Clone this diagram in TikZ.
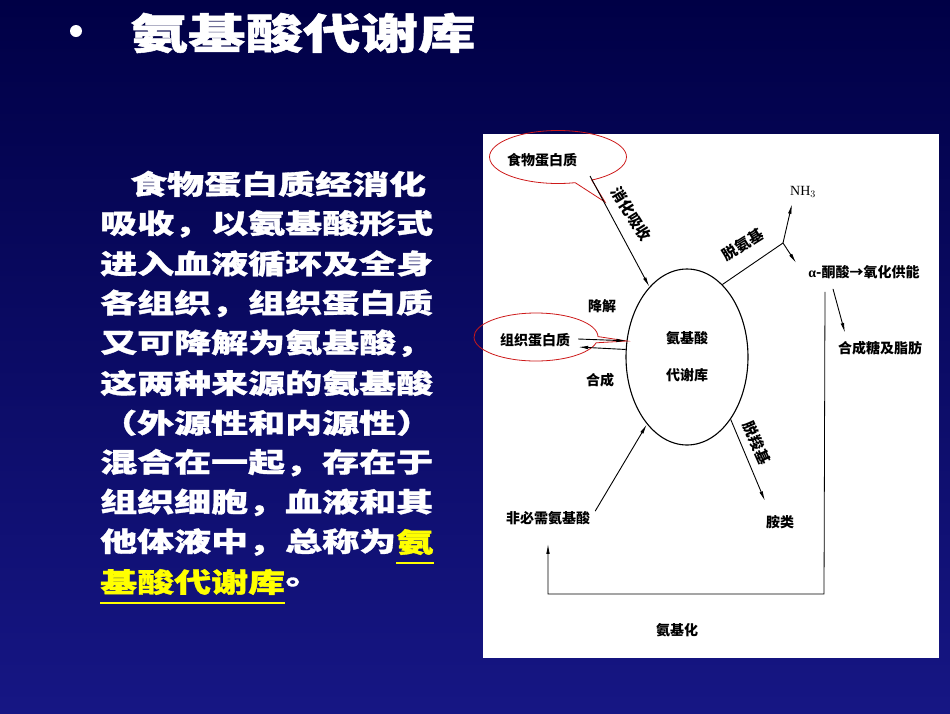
\documentclass[tikz,border=0pt]{standalone}
\usepackage{fontspec}
\setmainfont{Liberation Serif}
\newfontfamily\cjk{Noto Sans CJK SC}
\newfontfamily\widecjk[FakeStretch=1.37, FakeBold=1.2]{Noto Sans CJK SC}
\usetikzlibrary{arrows.meta,positioning,shapes.geometric,shapes.callouts}

\definecolor{slidetop}{RGB}{0,0,70}
\definecolor{slidebottom}{RGB}{22,22,132}
\definecolor{keyyellow}{RGB}{255,255,0}
\definecolor{ringred}{RGB}{205,25,25}

\tikzstyle{headline}=[
    text=white,
    font=\widecjk\bfseries\fontsize{42}{42}\selectfont,
    inner sep=0pt,
  ]
\tikzstyle{bodyline}=[
    text=white,
    font=\widecjk\bfseries\fontsize{27}{27}\selectfont,
    inner sep=0pt,
    anchor=west,
  ]
\tikzstyle{smalltext}=[
    font=\cjk\bfseries\fontsize{14}{14}\selectfont,
    inner sep=0pt,
  ]
\tikzstyle{slanttext}=[
    font=\cjk\bfseries\fontsize{15}{15}\selectfont,
    inner sep=0pt,
  ]
\tikzstyle{flow}=[
    -{Latex[length=10pt,width=3.5pt]},
    line width=0.9pt,
  ]
\tikzstyle{ringmark}=[
    ellipse callout,
    draw=ringred,
    line width=0.8pt,
  ]
\tikzstyle{keyline}=[
    draw=keyyellow,
    line width=1.5pt,
  ]

\begin{document}
\begin{tikzpicture}[x=1pt, y=-1pt]
  % slide
  \shade[top color=slidetop, bottom color=slidebottom] (0,0) rectangle (950,713);
  \node[circle, fill=white, minimum size=12pt, inner sep=0pt] (bullet) at (76,31) {};
  \node[headline] (title) at (303,33) {氨基酸代谢库};

  % text on the left
  \foreach \x/\txt [count=\i] in {130/食物蛋白质经消化, 100/吸收，以氨基酸形式,
      100/进入血液循环及全身, 100/各组织，组织蛋白质, 100/又可降解为氨基酸，,
      100/这两种来源的氨基酸, 100/（外源性和内源性）, 100/混合在一起，存在于,
      100/组织细胞，血液和其} {%
    \node[bodyline] (line\i) at (\x, {184+39.8*(\i-1)}) {\txt};
  }
  \node[bodyline] (line10) at (100,542) {他体液中，总称为};
  \node[bodyline, text=keyyellow] (keyword1) at (line10.east) {氨};
  \node[bodyline, text=keyyellow] (keyword2) at (100,582) {基酸代谢库};
  \node[bodyline] (stop) at (keyword2.east) {。};
  \draw[keyline] ([yshift=-8pt]keyword1.south west) -- ([yshift=-8pt]keyword1.south east);
  \draw[keyline] ([yshift=-8pt]keyword2.south west) -- ([yshift=-8pt]keyword2.south east);

  % diagram
  \fill[white] (483,134) rectangle (939,658);
  \node[draw, ellipse, line width=1.1pt, minimum width=122pt, minimum height=176pt,
    smalltext, align=center] (pool) at (687,357) {氨基酸\\[23pt]代谢库};

  \node[smalltext] (food) at (542,160) {食物蛋白质};
  \node[ringmark, minimum width=137pt, minimum height=53pt,
    callout absolute pointer={(605,202)}] (foodring) at (558,157) {};
  \coordinate (digstart) at (590,176);
  \draw[flow] (digstart) -- (pool);
  \node[slanttext, rotate=-58] (digest) at (631,214) {消化吸收};

  \node[smalltext] (tissue) at (535,340) {组织蛋白质};
  \node[ringmark, minimum width=124pt, minimum height=48pt,
    callout absolute pointer={(627,341)}] (tissuering) at (536,337) {};
  \draw[flow] ([xshift=8pt,yshift=1pt]tissue.east) -- (pool.165);
  \draw[flow] (pool.173) -- ([xshift=8pt,yshift=-7pt]tissue.east);
  \node[smalltext] (degrade) at (602,306) {降解};
  \node[smalltext] (synth) at (600,380) {合成};

  \coordinate (branch) at (783,243);
  \draw[line width=0.9pt] (pool.64) -- (branch);
  \node[slanttext, rotate=32] (deamin) at (743,245) {脱氨基};
  \node[font=\fontsize{14}{14}\selectfont, inner sep=0pt] (nh3) at (803,192) {NH$_3$};
  \draw[flow] (branch) -- ([xshift=-11pt,yshift=-6pt]nh3.south);
  \node[smalltext] (keto) at (864,272) {{\rmfamily α}-酮酸→氧化供能};
  \draw[flow] (branch) -- ([xshift=-12pt,yshift=2pt]keto.north west);
  \node[smalltext] (sugar) at (880,348) {合成糖及脂肪};
  \draw[flow] ([xshift=-31pt,yshift=-10pt]keto.south) -- ([xshift=-35pt,yshift=8pt]sugar.north);

  \node[smalltext] (nones) at (548,518) {非必需氨基酸};
  \draw[flow] ([xshift=5pt]nones.north east) -- (pool);
  \node[smalltext] (amines) at (780,522) {胺类};
  \draw[flow] (pool.-55) -- ([xshift=-15pt,yshift=14pt]amines.north);
  \node[slanttext, rotate=-66] (decarb) at (757,443) {脱羧基};

  \coordinate (loopcorner) at (824,594);
  \draw[flow, line width=0.8pt] ([xshift=-39pt,yshift=-13pt]keto.south) -- (loopcorner)
    -| ([yshift=-19pt]nones.south);
  \node[smalltext] (amination) at (677,630) {氨基化};
\end{tikzpicture}
\end{document}
